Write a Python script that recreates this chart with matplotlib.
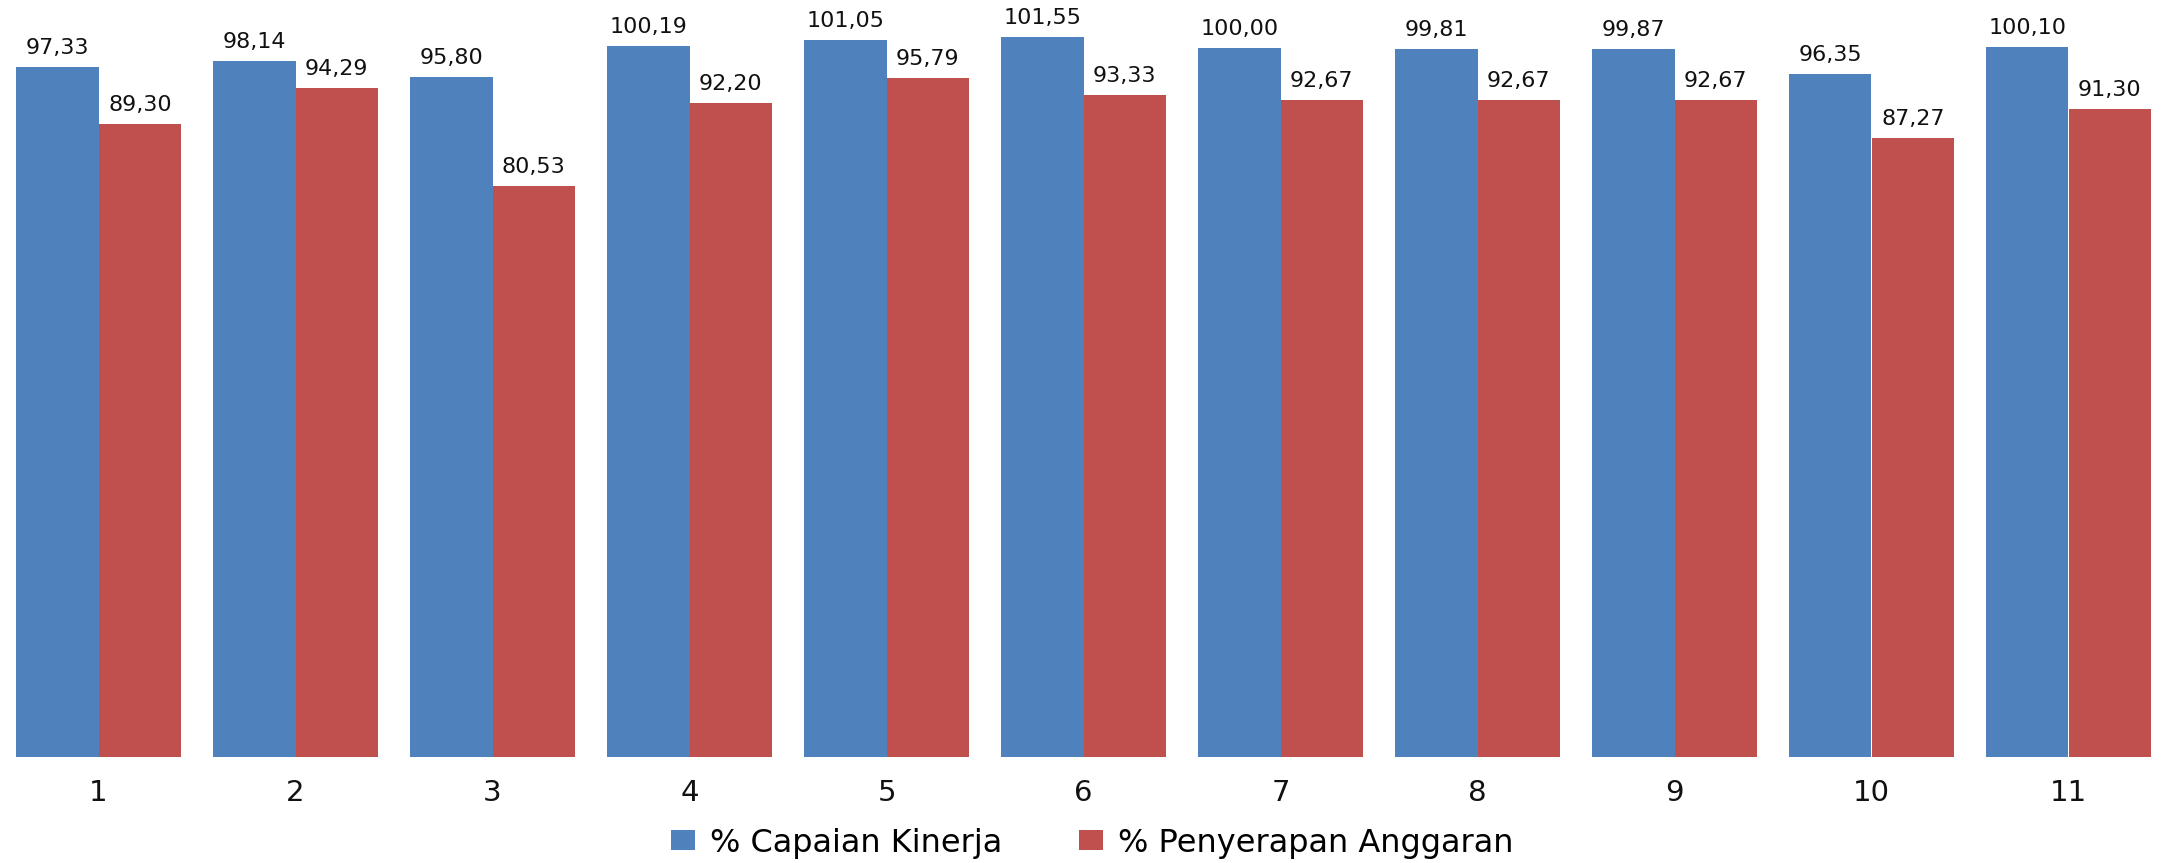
import matplotlib
matplotlib.use("Agg")
import matplotlib.pyplot as plt
import numpy as np

categories = ["1", "2", "3", "4", "5", "6", "7", "8", "9", "10", "11"]
capaian_kinerja = [97.33, 98.14, 95.80, 100.19, 101.05, 101.55, 100.00, 99.81, 99.87, 96.35, 100.10]
penyerapan_anggaran = [89.30, 94.29, 80.53, 92.20, 95.79, 93.33, 92.67, 92.67, 92.67, 87.27, 91.30]
series_names = ["% Capaian Kinerja", "% Penyerapan Anggaran"]
colors = ["#4F81BD", "#C0504D"]

plt.rcParams['font.family'] = ['DejaVu Sans']

W, H = 2167, 863
fig = plt.figure(figsize=(W / 100, H / 100), dpi=100)
base_px = 756.7
px_per_unit = 7.09
ymax = 105
ax = fig.add_axes([0.0, 1 - base_px / H, 1.0, ymax * px_per_unit / H])

x = np.arange(len(categories))
bw = 0.42
b1 = ax.bar(x - bw / 2, capaian_kinerja, bw, color=colors[0], label=series_names[0])
b2 = ax.bar(x + bw / 2, penyerapan_anggaran, bw, color=colors[1], label=series_names[1])

def fmt(v):
    return f"{v:.2f}".replace(".", ",")

for bars, vals in ((b1, capaian_kinerja), (b2, penyerapan_anggaran)):
    for rect, v in zip(bars, vals):
        ax.annotate(fmt(v), (rect.get_x() + rect.get_width() / 2, v),
                    xytext=(0, 6.5), textcoords="offset points",
                    ha="center", va="bottom", fontsize=16, color="#111111")

ax.set_xlim(-0.5, len(categories) - 0.5)
ax.set_ylim(0, ymax)
ax.set_xticks(x)
ax.set_xticklabels(categories, fontsize=21, color="#111111")
ax.tick_params(axis="x", length=0, pad=16)
ax.set_yticks([])
for s in ax.spines.values():
    s.set_visible(False)

fs = 23
em = fs / 72 * 100
fig.legend(loc="center", bbox_to_anchor=(1092 / W, 1 - 843 / H), ncol=2, frameon=False,
           fontsize=fs, handlelength=24 / em, handleheight=18 / em,
           handletextpad=15 / em, columnspacing=77 / em, borderpad=0)

fig.savefig("out.png", dpi=100)
